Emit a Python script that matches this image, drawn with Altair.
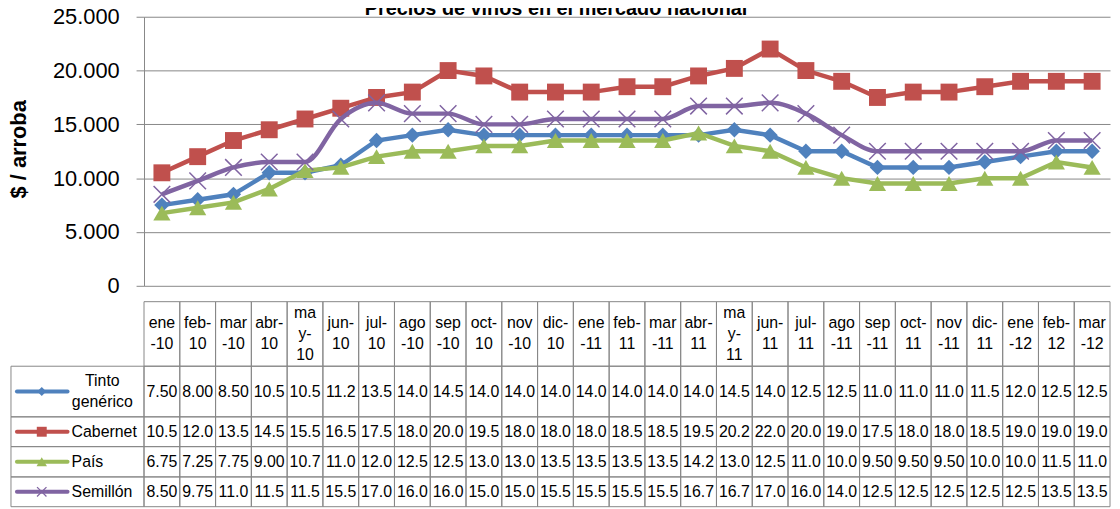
import altair as alt
import pandas as pd

months = ["ene-10", "feb-10", "mar-10", "abr-10", "may-10", "jun-10", "jul-10", "ago-10", "sep-10",
          "oct-10", "nov-10", "dic-10", "ene-11", "feb-11", "mar-11", "abr-11", "may-11", "jun-11",
          "jul-11", "ago-11", "sep-11", "oct-11", "nov-11", "dic-11", "ene-12", "feb-12", "mar-12"]
month_labels = ["ene\n-10", "feb-\n10", "mar\n-10", "abr-\n10", "ma\ny-\n10", "jun-\n10", "jul-\n10",
                "ago\n-10", "sep\n-10", "oct-\n10", "nov\n-10", "dic-\n10", "ene\n-11", "feb-\n11",
                "mar\n-11", "abr-\n11", "ma\ny-\n11", "jun-\n11", "jul-\n11", "ago\n-11", "sep\n-11",
                "oct-\n11", "nov\n-11", "dic-\n11", "ene\n-12", "feb-\n12", "mar\n-12"]
series_names = ["Tinto genérico", "Cabernet", "País", "Semillón"]
row_labels = ["Tinto\ngenérico", "Cabernet", "País", "Semillón"]
tinto = [7500, 8000, 8500, 10500, 10500, 11200, 13500, 14000, 14500, 14000, 14000, 14000,
         14000, 14000, 14000, 14000, 14500, 14000, 12500, 12500, 11000, 11000, 11000, 11500,
         12000, 12500, 12500]
cabernet = [10500, 12000, 13500, 14500, 15500, 16500, 17500, 18000, 20000, 19500, 18000, 18000,
            18000, 18500, 18500, 19500, 20200, 22000, 20000, 19000, 17500, 18000, 18000, 18500,
            19000, 19000, 19000]
pais = [6750, 7250, 7750, 9000, 10700, 11000, 12000, 12500, 12500, 13000, 13000, 13500,
        13500, 13500, 13500, 14200, 13000, 12500, 11000, 10000, 9500, 9500, 9500, 10000,
        10000, 11500, 11000]
semillon = [8500, 9750, 11000, 11500, 11500, 15500, 17000, 16000, 16000, 15000, 15000, 15500,
            15500, 15500, 15500, 16700, 16700, 17000, 16000, 14000, 12500, 12500, 12500, 12500,
            12500, 13500, 13500]
y_ticks = [0, 5000, 10000, 15000, 20000, 25000]
title_text = "Precios de vinos en el mercado nacional"
y_title = "$ / arroba"

series_values = [tinto, cabernet, pais, semillon]
colors = ["#4F81BD", "#C0504D", "#9BBB59", "#8064A2"]
shapes = ["diamond", "square", "triangle-up", "M-1,-1L1,1M-1,1L1,-1"]
marker_sizes = [240, 290, 300, 280]
legend_sizes = [80, 100, 110, 90]
FONT = "Liberation Sans"
GRID = "#878787"

# layout (pixels, relative to the plot area)
W, H = 973, 271
row_edges = [287, 352, 403, 433, 463.5, 493.5]
LEG_LEFT = -134
LH = 21

rows = []
for name, vals in zip(series_names, series_values):
    for m, v in zip(months, vals):
        rows.append({"month": m, "series": name, "value": v})
df = pd.DataFrame(rows)
df_months = pd.DataFrame({"month": months, "label": month_labels})
df_months["n"] = df_months["label"].str.count("\n") + 1

xscale = alt.Scale(type="band", domain=months, paddingInner=0, paddingOuter=0)
x_band = alt.X("month:N", scale=xscale, axis=None)
x_mid = alt.X("month:N", scale=xscale, axis=None, bandPosition=0.5)

yaxis = alt.Axis(values=y_ticks, labelExpr="replace(format(datum.value, ','), ',', '.')",
                 title=y_title, grid=True, gridColor=GRID, gridWidth=1, domainColor=GRID,
                 tickColor=GRID, tickSize=8, labelFont=FONT, labelFontSize=22, labelColor="black",
                 labelPadding=17, titleFont=FONT, titleFontSize=22, titleFontWeight="bold",
                 titleColor="black", titleAngle=-90, titleX=-126, titleY=133, titleAlign="center",
                 titleBaseline="middle")
y_enc = alt.Y("value:Q", scale=alt.Scale(domain=[0, 25000]), axis=yaxis)

layers = []

# table cells: header row
layers.append(alt.Chart(df_months).mark_rect(fill="white", fillOpacity=0, stroke=GRID, strokeWidth=1).encode(
    x=x_band, y=alt.value(row_edges[0]), y2=alt.value(row_edges[1])))
hc = (row_edges[0] + row_edges[1]) / 2
for n in (2, 3):
    layers.append(alt.Chart(df_months).transform_filter(f"datum.n == {n}").mark_text(
        font=FONT, fontSize=16, lineBreak="\n", lineHeight=LH,
        baseline="middle", align="center", color="black").encode(
        x=x_mid, y=alt.value(hc - (n - 1) / 2 * LH), text="label:N"))

for i, (name, lab, c) in enumerate(zip(series_names, row_labels, colors)):
    top, bot = row_edges[i + 1], row_edges[i + 2]
    yc = (top + bot) / 2
    sdf = df[df["series"] == name]
    one = pd.DataFrame({"series": [name], "label": [lab]})
    # value cells
    layers.append(alt.Chart(sdf).mark_rect(fill="white", fillOpacity=0, stroke=GRID, strokeWidth=1).encode(
        x=x_band, y=alt.value(top), y2=alt.value(bot)))
    layers.append(alt.Chart(sdf).transform_calculate(k="datum.value / 1000").mark_text(
        font=FONT, fontSize=16, baseline="middle", align="center", color="black").encode(
        x=x_mid, y=alt.value(yc), text=alt.Text("k:Q", format=".3r")))
    # legend cell
    layers.append(alt.Chart(one).mark_rect(fill="white", fillOpacity=0, stroke=GRID, strokeWidth=1).encode(
        x=alt.value(LEG_LEFT), x2=alt.value(0), y=alt.value(top), y2=alt.value(bot)))
    layers.append(alt.Chart(one).mark_rule(color=c, strokeWidth=4, strokeCap="round").encode(
        x=alt.value(-128), x2=alt.value(-77), y=alt.value(yc)))
    if i == 3:
        layers.append(alt.Chart(one).mark_point(shape=shapes[i], filled=False, color=c, strokeWidth=1.3,
                                                size=legend_sizes[i], opacity=1).encode(
            x=alt.value(-103), y=alt.value(yc)))
    else:
        layers.append(alt.Chart(one).mark_point(shape=shapes[i], filled=True, color=c,
                                                size=legend_sizes[i], opacity=1).encode(
            x=alt.value(-103), y=alt.value(yc)))
    if i == 0:
        layers.append(alt.Chart(one).mark_text(font=FONT, fontSize=16, lineBreak="\n", lineHeight=LH,
                                               baseline="middle", align="center", color="black").encode(
            x=alt.value(-42), y=alt.value(yc - LH / 2), text="label:N"))
    else:
        layers.append(alt.Chart(one).mark_text(font=FONT, fontSize=16, baseline="middle", align="left",
                                               color="black").encode(
            x=alt.value(-73), y=alt.value(yc), text="label:N"))

# plot lines and markers
for i, (name, c) in enumerate(zip(series_names, colors)):
    sdf = df[df["series"] == name]
    interp = "monotone" if i == 3 else "linear"
    layers.append(alt.Chart(sdf).mark_line(color=c, strokeWidth=4.5, interpolate=interp).encode(
        x=x_mid, y=y_enc))
    if i == 3:
        layers.append(alt.Chart(sdf).mark_point(shape=shapes[i], filled=False, color=c, strokeWidth=1.5,
                                                size=marker_sizes[i], opacity=1).encode(x=x_mid, y=y_enc))
    else:
        layers.append(alt.Chart(sdf).mark_point(shape=shapes[i], filled=True, color=c,
                                                size=marker_sizes[i], opacity=1).encode(x=x_mid, y=y_enc))

# title (partly outside the top edge, as in the reference)
layers.append(alt.Chart(pd.DataFrame({"t": [title_text]})).mark_text(
    font=FONT, fontSize=20, fontWeight="bold", align="center", baseline="alphabetic", color="black").encode(
    x=alt.value(415), y=alt.value(-2), text="t:N"))

chart = alt.layer(*layers).properties(
    width=W, height=H,
    autosize=alt.AutoSizeParams(type="none"),
    padding={"left": 137, "top": 7, "right": 2, "bottom": 223},
    background="white",
).configure_view(stroke=None)

chart.save("out.html", embed_options={"renderer": "svg", "actions": False})
